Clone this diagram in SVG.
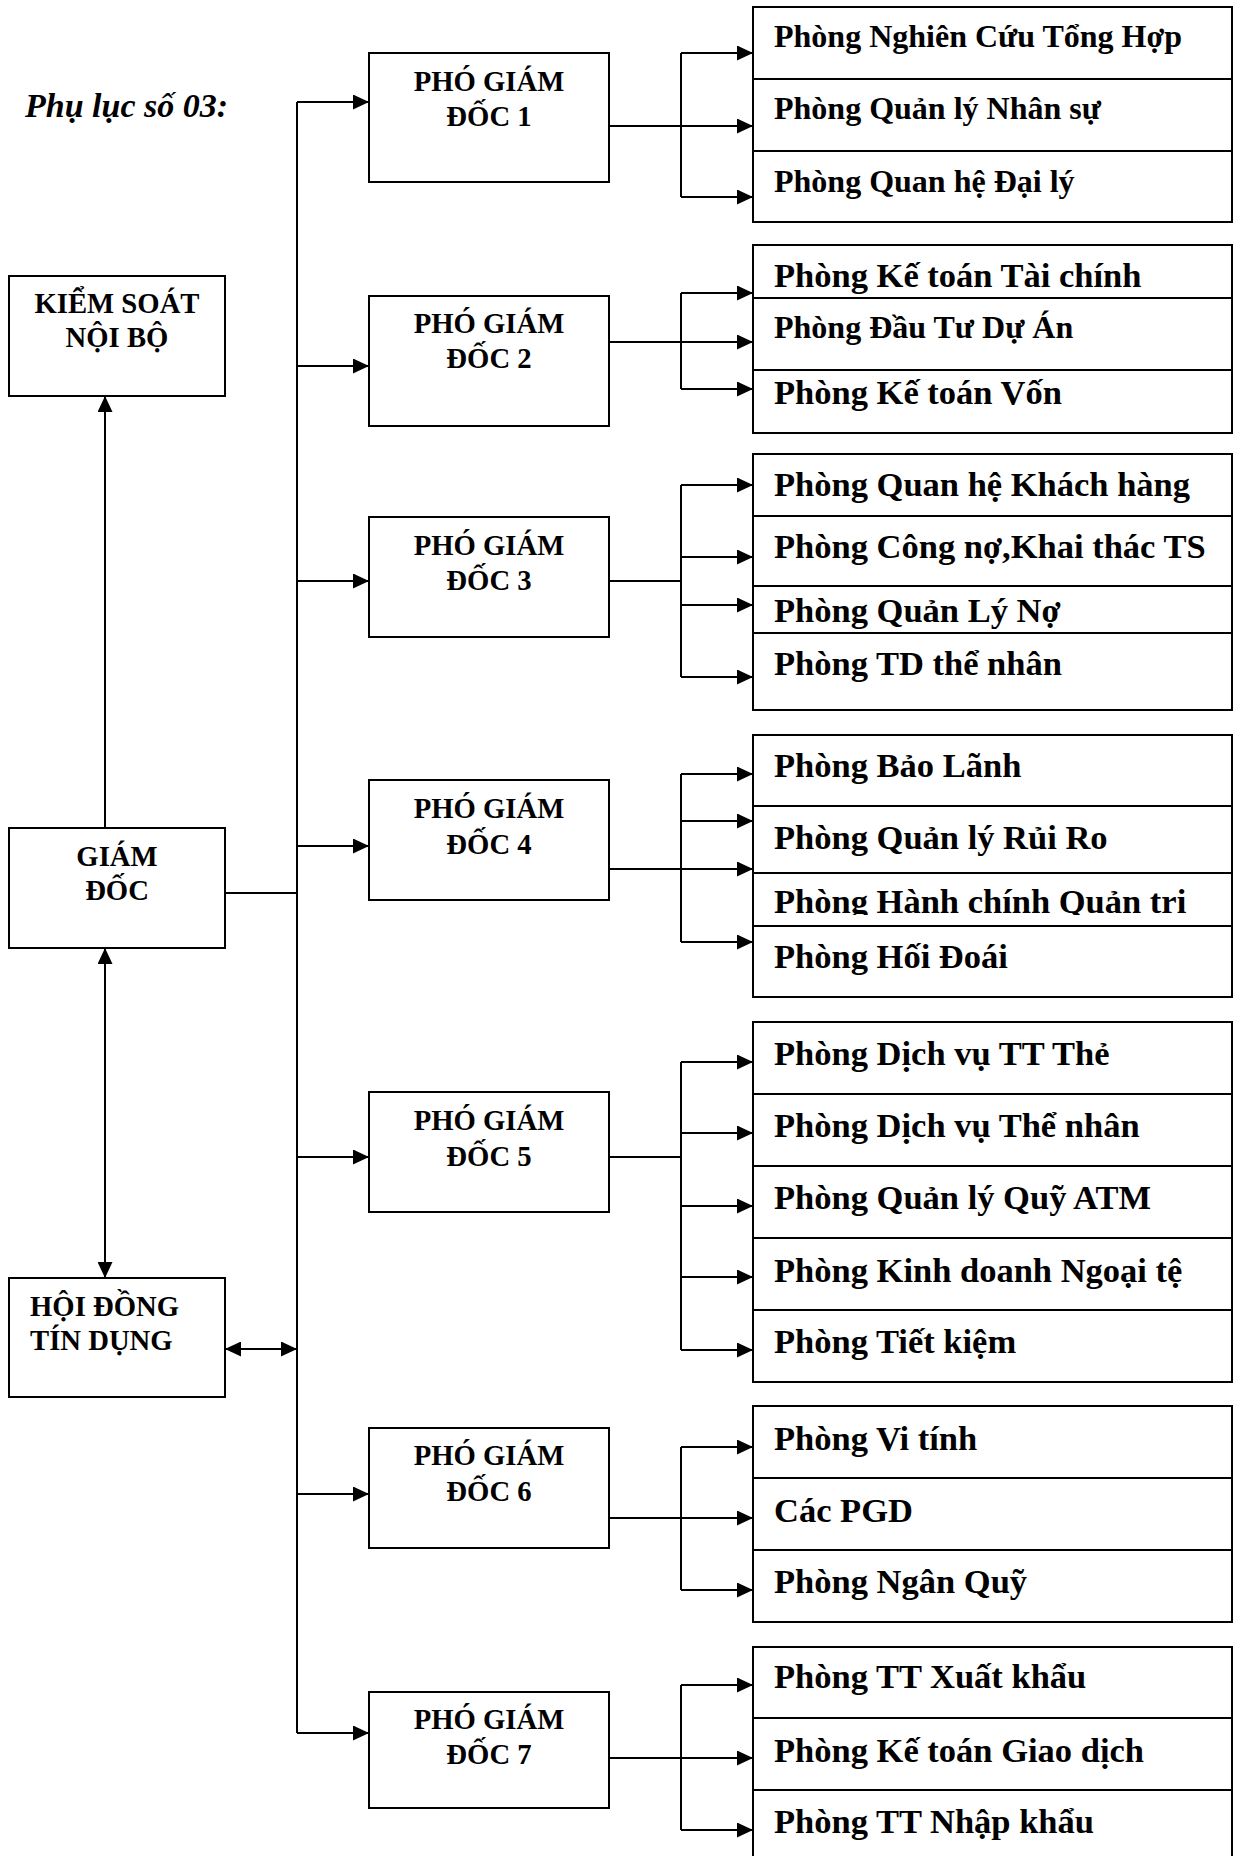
<svg xmlns="http://www.w3.org/2000/svg" width="1240" height="1856" viewBox="0 0 1240 1856">
<style>
.box{fill:#fff;stroke:#000;stroke-width:2}
.t{font-family:"Liberation Serif","Times New Roman",serif;font-weight:bold;fill:#000}
.c{text-anchor:middle;font-size:28.7px}
.l{font-size:28.7px}
.r{font-size:34.5px}
.r16{font-size:32px}
.ttl{font-family:"Liberation Serif","Times New Roman",serif;font-weight:bold;font-style:italic;font-size:34px;fill:#000}
.ln{fill:none;stroke:#000;stroke-width:2}
</style>
<defs>
<marker id="ah" markerUnits="userSpaceOnUse" markerWidth="16" markerHeight="15" refX="16" refY="7.5" orient="auto-start-reverse" viewBox="0 0 16 15"><path d="M0,0 L16,7.5 L0,15 z" fill="#000"/></marker>
<clipPath id="clipHC"><rect x="753" y="874" width="479" height="41"/></clipPath>
</defs>
<rect width="1240" height="1856" fill="#fff"/>
<text class="ttl" x="25" y="117">Phụ lục số 03:</text>

<g id="kiem-soat"><rect class="box" x="9" y="276" width="216" height="120"/><text class="t c" x="117" y="313">KIỂM SOÁT</text><text class="t c" x="117" y="347">NỘI BỘ</text></g>
<g id="giam-doc"><rect class="box" x="9" y="828" width="216" height="120"/><text class="t c" x="117" y="866">GIÁM</text><text class="t c" x="117" y="900">ĐỐC</text></g>
<g id="hoi-dong"><rect class="box" x="9" y="1278" width="216" height="119"/><text class="t l" x="30" y="1316">HỘI ĐỒNG</text><text class="t l" x="30" y="1350">TÍN DỤNG</text></g>

<g id="pgd1"><rect class="box" x="369" y="53" width="240" height="129"/><text class="t c" x="489" y="91">PHÓ GIÁM</text><text class="t c" x="489" y="126">ĐỐC 1</text></g>
<g id="pgd2"><rect class="box" x="369" y="296" width="240" height="130"/><text class="t c" x="489" y="333">PHÓ GIÁM</text><text class="t c" x="489" y="368">ĐỐC 2</text></g>
<g id="pgd3"><rect class="box" x="369" y="517" width="240" height="120"/><text class="t c" x="489" y="555">PHÓ GIÁM</text><text class="t c" x="489" y="590">ĐỐC 3</text></g>
<g id="pgd4"><rect class="box" x="369" y="780" width="240" height="120"/><text class="t c" x="489" y="818">PHÓ GIÁM</text><text class="t c" x="489" y="854">ĐỐC 4</text></g>
<g id="pgd5"><rect class="box" x="369" y="1092" width="240" height="120"/><text class="t c" x="489" y="1130">PHÓ GIÁM</text><text class="t c" x="489" y="1166">ĐỐC 5</text></g>
<g id="pgd6"><rect class="box" x="369" y="1428" width="240" height="120"/><text class="t c" x="489" y="1465">PHÓ GIÁM</text><text class="t c" x="489" y="1501">ĐỐC 6</text></g>
<g id="pgd7"><rect class="box" x="369" y="1692" width="240" height="116"/><text class="t c" x="489" y="1729">PHÓ GIÁM</text><text class="t c" x="489" y="1764">ĐỐC 7</text></g>

<g id="p-nghien-cuu"><rect class="box" x="753" y="7" width="479" height="72"/><text class="t r16" x="774" y="47">Phòng Nghiên Cứu Tổng Hợp</text></g>
<g id="p-nhan-su"><rect class="box" x="753" y="79" width="479" height="72"/><text class="t r16" x="774" y="119">Phòng Quản lý Nhân sự</text></g>
<g id="p-dai-ly"><rect class="box" x="753" y="151" width="479" height="71"/><text class="t r16" x="774" y="192">Phòng Quan hệ Đại lý</text></g>

<g id="p-ke-toan-tc"><rect class="box" x="753" y="245" width="479" height="53"/><text class="t r" x="774" y="287">Phòng Kế toán Tài chính</text></g>
<g id="p-dau-tu"><rect class="box" x="753" y="298" width="479" height="72"/><text class="t r16" x="774" y="338">Phòng Đầu Tư Dự Án</text></g>
<g id="p-ke-toan-von"><rect class="box" x="753" y="370" width="479" height="63"/><text class="t r" x="774" y="404">Phòng Kế toán Vốn</text></g>

<g id="p-khach-hang"><rect class="box" x="753" y="454" width="479" height="62"/><text class="t r" x="774" y="496">Phòng Quan hệ Khách hàng</text></g>
<g id="p-cong-no"><rect class="box" x="753" y="516" width="479" height="70"/><text class="t r" x="774" y="558">Phòng Công nợ,Khai thác TS</text></g>
<g id="p-quan-ly-no"><rect class="box" x="753" y="586" width="479" height="47"/><text class="t r" x="774" y="622">Phòng Quản Lý Nợ</text></g>
<g id="p-td-the-nhan"><rect class="box" x="753" y="633" width="479" height="77"/><text class="t r" x="774" y="675">Phòng TD thể nhân</text></g>

<g id="p-bao-lanh"><rect class="box" x="753" y="735" width="479" height="71"/><text class="t r" x="774" y="777">Phòng Bảo Lãnh</text></g>
<g id="p-rui-ro"><rect class="box" x="753" y="806" width="479" height="67"/><text class="t r" x="774" y="849">Phòng Quản lý Rủi Ro</text></g>
<g id="p-hanh-chinh"><rect class="box" x="753" y="873" width="479" height="53"/><text class="t r" x="774" y="913" clip-path="url(#clipHC)">Phòng Hành chính Quản trị</text></g>
<g id="p-hoi-doai"><rect class="box" x="753" y="926" width="479" height="71"/><text class="t r" x="774" y="968">Phòng Hối Đoái</text></g>

<g id="p-dv-tt-the"><rect class="box" x="753" y="1022" width="479" height="72"/><text class="t r" x="774" y="1065">Phòng Dịch vụ TT Thẻ</text></g>
<g id="p-dv-the-nhan"><rect class="box" x="753" y="1094" width="479" height="72"/><text class="t r" x="774" y="1137">Phòng Dịch vụ Thể nhân</text></g>
<g id="p-quy-atm"><rect class="box" x="753" y="1166" width="479" height="72"/><text class="t r" x="774" y="1209">Phòng Quản lý Quỹ ATM</text></g>
<g id="p-ngoai-te"><rect class="box" x="753" y="1238" width="479" height="72"/><text class="t r" x="774" y="1282">Phòng Kinh doanh Ngoại tệ</text></g>
<g id="p-tiet-kiem"><rect class="box" x="753" y="1310" width="479" height="72"/><text class="t r" x="774" y="1353">Phòng Tiết kiệm</text></g>

<g id="p-vi-tinh"><rect class="box" x="753" y="1406" width="479" height="72"/><text class="t r" x="774" y="1450">Phòng Vi tính</text></g>
<g id="p-cac-pgd"><rect class="box" x="753" y="1478" width="479" height="72"/><text class="t r" x="774" y="1522">Các PGD</text></g>
<g id="p-ngan-quy"><rect class="box" x="753" y="1550" width="479" height="72"/><text class="t r" x="774" y="1593">Phòng Ngân Quỹ</text></g>

<g id="p-xuat-khau"><rect class="box" x="753" y="1647" width="479" height="71"/><text class="t r" x="774" y="1688">Phòng TT Xuất khẩu</text></g>
<g id="p-ke-toan-gd"><rect class="box" x="753" y="1718" width="479" height="72"/><text class="t r" x="774" y="1762">Phòng Kế toán Giao dịch</text></g>
<g id="p-nhap-khau"><rect class="box" x="753" y="1790" width="479" height="80"/><text class="t r" x="774" y="1833">Phòng TT Nhập khẩu</text></g>

<g id="connectors">
<path class="ln" d="M105,828 V396" marker-end="url(#ah)"/>
<path class="ln" d="M105,948 V1278" marker-start="url(#ah)" marker-end="url(#ah)"/>
<path class="ln" d="M225,1349 H297" marker-start="url(#ah)" marker-end="url(#ah)"/>
<path class="ln" d="M225,893 H297"/>
<path class="ln" d="M297,102 V1733"/>
<path class="ln" d="M297,102 H369" marker-end="url(#ah)"/>
<path class="ln" d="M297,366 H369" marker-end="url(#ah)"/>
<path class="ln" d="M297,581 H369" marker-end="url(#ah)"/>
<path class="ln" d="M297,846 H369" marker-end="url(#ah)"/>
<path class="ln" d="M297,1157 H369" marker-end="url(#ah)"/>
<path class="ln" d="M297,1494 H369" marker-end="url(#ah)"/>
<path class="ln" d="M297,1733 H369" marker-end="url(#ah)"/>

<path class="ln" d="M681,53 V197"/>
<path class="ln" d="M609,126 H753" marker-end="url(#ah)"/>
<path class="ln" d="M681,53 H753" marker-end="url(#ah)"/>
<path class="ln" d="M681,197 H753" marker-end="url(#ah)"/>

<path class="ln" d="M681,293 V389"/>
<path class="ln" d="M609,342 H753" marker-end="url(#ah)"/>
<path class="ln" d="M681,293 H753" marker-end="url(#ah)"/>
<path class="ln" d="M681,389 H753" marker-end="url(#ah)"/>

<path class="ln" d="M681,485 V677"/>
<path class="ln" d="M609,581 H681"/>
<path class="ln" d="M681,485 H753" marker-end="url(#ah)"/>
<path class="ln" d="M681,557 H753" marker-end="url(#ah)"/>
<path class="ln" d="M681,605 H753" marker-end="url(#ah)"/>
<path class="ln" d="M681,677 H753" marker-end="url(#ah)"/>

<path class="ln" d="M681,774 V942"/>
<path class="ln" d="M609,869 H753" marker-end="url(#ah)"/>
<path class="ln" d="M681,774 H753" marker-end="url(#ah)"/>
<path class="ln" d="M681,821 H753" marker-end="url(#ah)"/>
<path class="ln" d="M681,942 H753" marker-end="url(#ah)"/>

<path class="ln" d="M681,1062 V1350"/>
<path class="ln" d="M609,1157 H681"/>
<path class="ln" d="M681,1062 H753" marker-end="url(#ah)"/>
<path class="ln" d="M681,1133 H753" marker-end="url(#ah)"/>
<path class="ln" d="M681,1206 H753" marker-end="url(#ah)"/>
<path class="ln" d="M681,1277 H753" marker-end="url(#ah)"/>
<path class="ln" d="M681,1350 H753" marker-end="url(#ah)"/>

<path class="ln" d="M681,1447 V1590"/>
<path class="ln" d="M609,1518 H753" marker-end="url(#ah)"/>
<path class="ln" d="M681,1447 H753" marker-end="url(#ah)"/>
<path class="ln" d="M681,1590 H753" marker-end="url(#ah)"/>

<path class="ln" d="M681,1685 V1830"/>
<path class="ln" d="M609,1758 H753" marker-end="url(#ah)"/>
<path class="ln" d="M681,1685 H753" marker-end="url(#ah)"/>
<path class="ln" d="M681,1830 H753" marker-end="url(#ah)"/>
</g>
</svg>
